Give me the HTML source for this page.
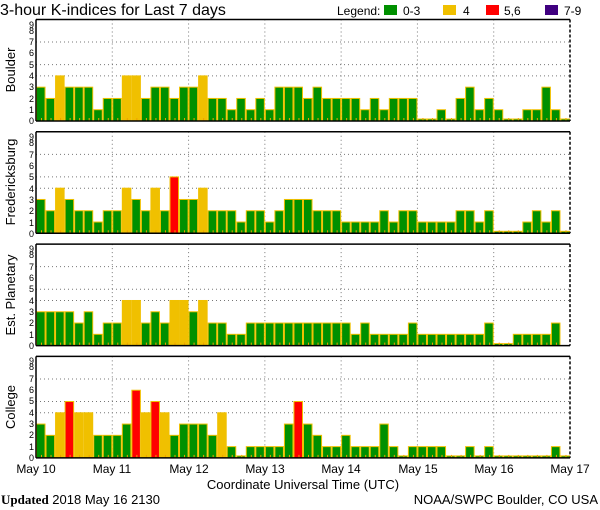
<!DOCTYPE html>
<html><head><meta charset="utf-8"><style>
html,body{margin:0;padding:0;background:#fff;}
svg{display:block;font-family:"Liberation Sans",sans-serif;}
</style></head><body>
<svg id="s" width="600" height="510" xmlns="http://www.w3.org/2000/svg">
<rect width="600" height="510" fill="#fff"/>
<text x="0" y="15" font-size="16" fill="#000">3-hour K-indices for Last 7 days</text>
<text x="337" y="15" font-size="12" fill="#000">Legend:</text>
<rect x="384" y="5" width="13" height="10" fill="#009000"/>
<text x="403" y="15" font-size="12">0-3</text>
<rect x="443" y="5" width="13" height="10" fill="#f0c000"/>
<text x="463" y="15" font-size="12">4</text>
<rect x="486" y="5" width="13" height="10" fill="#ff0000"/>
<text x="504" y="15" font-size="12">5,6</text>
<rect x="545" y="5" width="13" height="10" fill="#400080"/>
<text x="564" y="15" font-size="12">7-9</text>
<g id="bars"></g>
<g font-size="9" text-anchor="end" fill="#000">
<text x="34" y="124">0</text><text x="34" y="113">1</text><text x="34" y="102">2</text><text x="34" y="90">3</text><text x="34" y="79">4</text><text x="34" y="68">5</text><text x="34" y="56">6</text><text x="34" y="45">7</text><text x="34" y="34">8</text><text x="34" y="28">9</text>
<text x="34" y="237">0</text><text x="34" y="226">1</text><text x="34" y="214">2</text><text x="34" y="203">3</text><text x="34" y="192">4</text><text x="34" y="180">5</text><text x="34" y="169">6</text><text x="34" y="158">7</text><text x="34" y="146">8</text><text x="34" y="140">9</text>
<text x="34" y="349">0</text><text x="34" y="338">1</text><text x="34" y="326">2</text><text x="34" y="315">3</text><text x="34" y="304">4</text><text x="34" y="292">5</text><text x="34" y="281">6</text><text x="34" y="270">7</text><text x="34" y="258">8</text><text x="34" y="252">9</text>
<text x="34" y="461">0</text><text x="34" y="450">1</text><text x="34" y="438">2</text><text x="34" y="427">3</text><text x="34" y="416">4</text><text x="34" y="404">5</text><text x="34" y="393">6</text><text x="34" y="382">7</text><text x="34" y="370">8</text><text x="34" y="364">9</text>
</g>
<g font-size="13" text-anchor="middle" fill="#000">
<text transform="translate(15,70) rotate(-90)">Boulder</text>
<text transform="translate(15,182) rotate(-90)">Fredericksburg</text>
<text transform="translate(15,295) rotate(-90)">Est. Planetary</text>
<text transform="translate(15,407) rotate(-90)">College</text>
</g>
<g font-size="12" text-anchor="middle" fill="#000">
<text x="36" y="473">May 10</text><text x="112" y="473">May 11</text><text x="189" y="473">May 12</text><text x="265" y="473">May 13</text><text x="341" y="473">May 14</text><text x="418" y="473">May 15</text><text x="494" y="473">May 16</text><text x="570" y="473">May 17</text>
</g>
<text x="303" y="489" font-size="13" text-anchor="middle">Coordinate Universal Time (UTC)</text>
<text x="1" y="504" font-size="13" font-family="Liberation Serif,serif"><tspan font-weight="bold">Updated</tspan><tspan font-family="Liberation Sans,sans-serif"> 2018 May 16 2130</tspan></text>
<text x="598" y="504" font-size="13" text-anchor="end">NOAA/SWPC Boulder, CO USA</text>
</svg>
<script>
(function(){
var D=[
[3,2,4,3,3,3,1,2,2,4,4,2,3,3,2,3,3,4,2,2,1,2,1,2,1,3,3,3,2,3,2,2,2,2,1,2,1,2,2,2,0,0,1,0,2,3,1,2,1,0,0,1,1,3,1,0],
[3,2,4,3,2,2,1,2,2,4,3,2,4,2,5,3,3,4,2,2,2,1,2,2,1,2,3,3,3,2,2,2,1,1,1,1,2,1,2,2,1,1,1,1,2,2,1,2,0,0,0,1,2,1,2,0],
[3,3,3,3,2,3,1,2,2,4,4,2,3,2,4,4,3,4,2,2,1,1,2,2,2,2,2,2,2,2,2,2,2,1,2,1,1,1,1,2,1,1,1,1,1,1,1,2,0,0,1,1,1,1,2,-1],
[3,2,4,5,4,4,2,2,2,3,6,4,5,4,2,3,3,3,2,4,1,0,1,1,1,1,3,5,3,2,1,1,2,1,1,1,3,1,0,1,1,1,1,0,0,1,0,1,0,0,0,0,0,0,1,0]];
var NS="http://www.w3.org/2000/svg",g=document.getElementById('bars');
function el(n,a){var e=document.createElementNS(NS,n);for(var k in a)e.setAttribute(k,a[k]);g.appendChild(e);}
var L=36,R=570,W=(R-L)/56,H=101.5,U=H/9;
for(var p=0;p<4;p++){
 var y0=19.5+112.3*p,bot=y0+H;
 [4,5,7].forEach(function(v){el('line',{x1:L,x2:R,y1:bot-v*U,y2:bot-v*U,stroke:'#777','stroke-dasharray':'1,3'});});
 for(var d=1;d<7;d++){var gx=L+d*(R-L)/7;el('line',{x1:gx,x2:gx,y1:y0,y2:bot,stroke:'#777','stroke-dasharray':'1,3'});}
 for(var i=0;i<56;i++){var v=D[p][i];if(v<0)continue;
  var bx=L+i*W,h=Math.max(v*U,2),c=v<=3?'#009000':v==4?'#f0c000':v<=6?'#ff0000':'#400080';
  el('rect',{x:bx+0.5,y:bot-h,width:W-1,height:h,fill:c,stroke:'#f0c000','stroke-width':1});
  el('rect',{x:bx+5,y:bot-3,width:1,height:3,fill:'#f0a000'});
 }
 el('line',{x1:L,x2:R,y1:y0,y2:y0,stroke:'#000','stroke-width':1.5});
 el('line',{x1:L,x2:R,y1:bot,y2:bot,stroke:'#000','stroke-width':1.5});
 el('line',{x1:L,x2:L,y1:y0,y2:bot,stroke:'#000','stroke-width':1.5});
 el('line',{x1:R,x2:R,y1:y0,y2:bot,stroke:'#000','stroke-width':1.5,'stroke-dasharray':'3,2'});
}
})();
</script>
</body></html>
